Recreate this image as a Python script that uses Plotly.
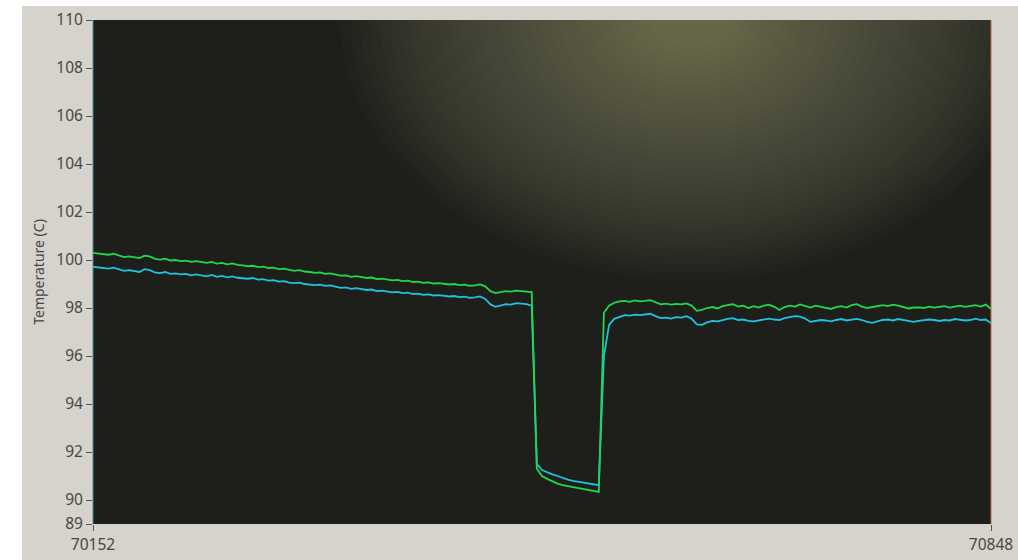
import plotly.graph_objects as go

# sample positions (x axis units), step of 4
x_start = 70152
x_step = 4
n_samples = 175
x_vals = [x_start + x_step * i for i in range(n_samples)]

green_vals = [
    100.30, 100.28, 100.25, 100.22, 100.26, 100.20, 100.12, 100.15, 100.10, 100.08,
    100.18, 100.15, 100.05, 100.02, 100.06, 99.98, 100.00, 99.95, 99.97, 99.92,
    99.95, 99.90, 99.88, 99.92, 99.85, 99.88, 99.82, 99.86, 99.80, 99.78,
    99.74, 99.76, 99.70, 99.72, 99.66, 99.68, 99.62, 99.64, 99.58, 99.55,
    99.58, 99.52, 99.50, 99.46, 99.48, 99.42, 99.44, 99.38, 99.35, 99.36,
    99.30, 99.33, 99.28, 99.25, 99.27, 99.20, 99.22, 99.18, 99.15, 99.17,
    99.12, 99.14, 99.08, 99.10, 99.05, 99.07, 99.02, 99.04, 99.00, 98.98,
    99.00, 98.95, 98.97, 98.92, 98.94, 98.98, 98.90, 98.70, 98.62, 98.66,
    98.70, 98.68, 98.72, 98.70, 98.68, 98.66,
    91.30, 91.00, 90.88, 90.78, 90.68, 90.62, 90.58, 90.52, 90.48, 90.45,
    90.42, 90.38, 90.34,
    97.80, 98.10, 98.22,
    98.28, 98.30, 98.26, 98.32, 98.28, 98.30, 98.33, 98.24, 98.15, 98.18,
    98.14, 98.17, 98.15, 98.19, 98.10, 97.88, 97.92, 98.00, 98.04, 97.98,
    98.08, 98.12, 98.16, 98.06, 98.10, 98.00, 98.08, 98.02, 98.10, 98.14,
    98.05, 97.92, 98.04, 98.10, 98.06, 98.15, 98.08, 98.02, 98.10, 98.05,
    98.00, 97.96, 98.04, 98.08, 98.02, 98.12, 98.16, 98.06, 98.00, 98.05,
    98.10, 98.12, 98.08, 98.14, 98.10, 98.04, 97.98, 98.02, 98.03, 98.00,
    98.06, 98.02, 98.04, 98.08, 98.02, 98.06, 98.10, 98.05, 98.08, 98.12,
    98.06, 98.14, 97.96,
]

cyan_vals = [
    99.72, 99.70, 99.68, 99.64, 99.68, 99.62, 99.55, 99.58, 99.54, 99.50,
    99.62, 99.58, 99.48, 99.45, 99.50, 99.42, 99.44, 99.40, 99.42, 99.36,
    99.40, 99.35, 99.32, 99.38, 99.30, 99.34, 99.28, 99.32, 99.26, 99.24,
    99.22, 99.25, 99.18, 99.20, 99.14, 99.16, 99.10, 99.12, 99.06, 99.04,
    99.06, 99.00, 98.98, 98.95, 98.97, 98.92, 98.94, 98.88, 98.84, 98.86,
    98.80, 98.83, 98.78, 98.75, 98.77, 98.70, 98.72, 98.68, 98.65, 98.67,
    98.62, 98.64, 98.58, 98.60, 98.55, 98.57, 98.52, 98.54, 98.50, 98.48,
    98.50, 98.45, 98.47, 98.42, 98.44, 98.48, 98.38, 98.15, 98.05, 98.10,
    98.16, 98.14, 98.20, 98.18, 98.16, 98.10,
    91.50, 91.25, 91.15, 91.07, 91.00, 90.92, 90.85, 90.80, 90.76, 90.73,
    90.70, 90.66, 90.62,
    96.00, 97.30, 97.55,
    97.62, 97.70, 97.68, 97.72, 97.70, 97.74, 97.76, 97.66, 97.58, 97.60,
    97.56, 97.62, 97.60, 97.66, 97.55, 97.32, 97.30, 97.40, 97.46, 97.44,
    97.50, 97.55, 97.58, 97.50, 97.52, 97.46, 97.44, 97.48, 97.54, 97.56,
    97.52, 97.50, 97.58, 97.62, 97.66, 97.64, 97.56, 97.42, 97.46, 97.50,
    97.48, 97.44, 97.50, 97.54, 97.48, 97.52, 97.55, 97.50, 97.42, 97.38,
    97.44, 97.50, 97.52, 97.48, 97.54, 97.50, 97.44, 97.42, 97.46, 97.48,
    97.52, 97.50, 97.46, 97.50, 97.48, 97.54, 97.52, 97.48, 97.50, 97.56,
    97.50, 97.52, 97.36,
]

y_ticks = [89, 90, 92, 94, 96, 98, 100, 102, 104, 106, 108, 110]
x_ticks = [70152, 70848]

FONT = "Noto Sans"
PANEL = "#d6d2cc"
TXT = "#474747"

fig = go.Figure()
fig.add_trace(go.Scatter(x=x_vals, y=cyan_vals, mode="lines", line=dict(color="#1ec3e0", width=1.8),
                         showlegend=False, name="Ch2"))
fig.add_trace(go.Scatter(x=x_vals, y=green_vals, mode="lines", line=dict(color="#20d84e", width=1.8),
                         showlegend=False, name="Ch1"))

shapes = []
# white photo border on left and top
shapes.append(dict(type="rect", xref="paper", yref="paper", x0=-0.2, x1=-0.0791, y0=-0.2, y1=1.2,
                   fillcolor="white", line=dict(width=0), layer="below"))
shapes.append(dict(type="rect", xref="paper", yref="paper", x0=-0.2, x1=1.2, y0=1.0278, y1=1.2,
                   fillcolor="white", line=dict(width=0), layer="below"))
# glare on screen (soft, layered ellipses)
cx = 70615
n_rings = 32
for k in range(n_rings):
    f = 1.0 - k / n_rings
    rx = (30 + 320 * f) * 0.775
    ry = (20 + 240 * f) / 24.0
    shapes.append(dict(type="circle", xref="x", yref="y", x0=cx - rx, x1=cx + rx, y0=110 - ry, y1=110 + ry,
                       fillcolor="#c4c49e", opacity=0.021, line=dict(width=0), layer="below"))
# faint coloured screen edges from the photo
shapes.append(dict(type="line", xref="paper", yref="paper", x0=0, x1=0, y0=0, y1=1,
                   line=dict(color="#3e8f9c", width=1), layer="above"))
shapes.append(dict(type="line", xref="paper", yref="paper", x0=1, x1=1, y0=0, y1=1,
                   line=dict(color="#c0683f", width=1), layer="above"))

fig.update_layout(
    width=1018, height=560,
    margin=dict(l=93, r=27, t=20, b=36, autoexpand=False),
    paper_bgcolor=PANEL,
    plot_bgcolor="#1e1f1b",
    font=dict(family=FONT, color=TXT, size=15),
    shapes=shapes,
    xaxis=dict(range=[70152, 70848], tickvals=x_ticks, ticktext=[str(v) for v in x_ticks],
               showgrid=False, zeroline=False, ticks="outside", ticklen=6, tickcolor="#555",
               tickfont=dict(size=15.5, color=TXT), showline=False, automargin=False),
    yaxis=dict(range=[89, 110], tickvals=y_ticks, ticktext=[str(v) for v in y_ticks],
               showgrid=False, zeroline=False, ticks="outside", ticklen=6, tickcolor="#555",
               tickfont=dict(size=15.5, color=TXT), showline=False, automargin=False,
               title=dict(text="Temperature (C)", font=dict(size=14, color=TXT), standoff=8)),
)

fig.write_html("out.html", config={"displayModeBar": False},
               post_script="document.body.style.margin='0';")
